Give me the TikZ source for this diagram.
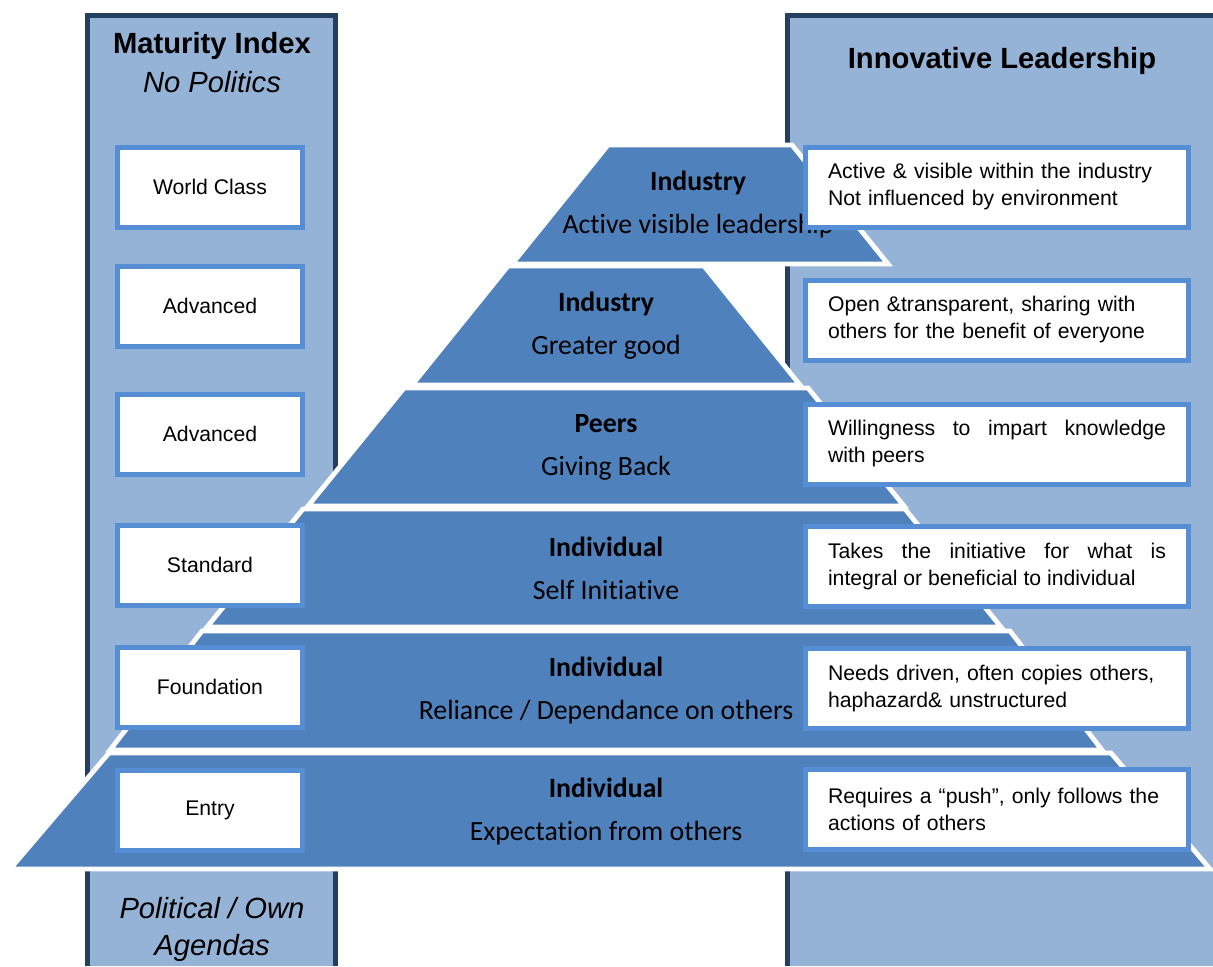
\documentclass[tikz,border=0pt]{standalone}
\usepackage{fontspec}
\setmainfont{Liberation Sans}
\newfontfamily\calfont[Ligatures=NoCommon]{Carlito}
\definecolor{panelfill}{HTML}{95B3D7}
\definecolor{paneledge}{HTML}{243F60}
\definecolor{tierfill}{HTML}{4F81BD}
\definecolor{boxedge}{HTML}{558ED5}
\tikzset{
  panel/.style={fill=panelfill},
  panelline/.style={draw=paneledge,line width=2.5pt},
  tier/.style={fill=tierfill,draw=white,line width=2.4pt},
  tiertext/.style={align=center,font=\calfont\fontsize{13.9}{21.5}\selectfont},
  level/.style={draw=boxedge,fill=white,line width=2.5pt,minimum width=92.5pt,
    minimum height=40pt,font=\fontsize{10.6}{13}\selectfont},
  descr/.style={draw=boxedge,fill=white,line width=2.5pt,minimum width=191.5pt,
    minimum height=40pt,text width=169pt,font=\fontsize{10.6}{13.5}\selectfont},
  heading/.style={anchor=base,font=\bfseries\fontsize{14.6}{18}\selectfont},
  subheading/.style={anchor=base,font=\itshape\fontsize{14.6}{18}\selectfont}
}
\begin{document}
\begin{tikzpicture}[x=0.5pt,y=-0.5pt]
\useasboundingbox (0,0) rectangle (1213,966);
% side panels
\fill[panel] (87.5,15.5) rectangle (335.5,966);
\draw[panelline] (87.5,966) -- (87.5,15.5) -- (335.5,15.5) -- (335.5,966);
\fill[panel] (787.5,15.5) rectangle (1213,966);
\draw[panelline] (787.5,966) -- (787.5,15.5) -- (1213,15.5);
\node[heading] (maturity) at (212,53) {Maturity Index};
\node[subheading] (nopol) at (212,92) {No Politics};
\node[heading] (innov) at (1002,68) {Innovative Leadership};
\node[subheading] (polit) at (212,918) {Political / Own};
\node[subheading] (agenda) at (212,955) {Agendas};
% pyramid
\foreach \ytop/\ybot/\cx/\wtop/\wbot/\tx/\txt [count=\i] in {
    145/264/700/92/188/698/{\textbf{Industry}\\Active visible leadership},
    266/385/606/98/194/606/{\textbf{Industry}\\Greater good},
    388/506/606/202/298/606/{\textbf{Peers}\\Giving Back},
    509/627/604/301/397/606/{\textbf{Individual}\\Self Initiative},
    631/750/606/404/496/606/{\textbf{Individual}\\Reliance / Dependance on others},
    753/869/610/501/600/606/{\textbf{Individual}\\Expectation from others}} {
    \draw[tier] (\cx-\wtop,\ytop) -- (\cx+\wtop,\ytop) -- (\cx+\wbot,\ybot)
        -- (\cx-\wbot,\ybot) -- cycle;
    \node[tiertext] (tier\i) at (\tx,{(\ytop+\ybot)/2}) {\txt};
}
% maturity levels
\foreach \y/\lbl [count=\i] in {187/World Class,306/Advanced,434/Advanced,
    565/Standard,687/Foundation,810/Entry}
    \node[level] (lvl\i) at (210,\y) {\lbl};
% descriptions
\node[descr,align=left] (desc1) at (997,187)
    {Active \& visible within the industry\\Not influenced by environment};
\node[descr,align=left] (desc2) at (997,320)
    {Open \&transparent, sharing with\\others for the benefit of everyone};
\node[descr,align=justify] (desc3) at (997,444)
    {Willingness to impart knowledge\linebreak with peers};
\node[descr,align=justify] (desc4) at (997,566)
    {Takes the initiative for what is\linebreak integral or beneficial to individual};
\node[descr,align=left] (desc5) at (997,688)
    {Needs driven, often copies others,\\haphazard\& unstructured};
\node[descr,align=left] (desc6) at (997,809)
    {Requires a “push”, only follows the\\actions of others};
\end{tikzpicture}
\end{document}
